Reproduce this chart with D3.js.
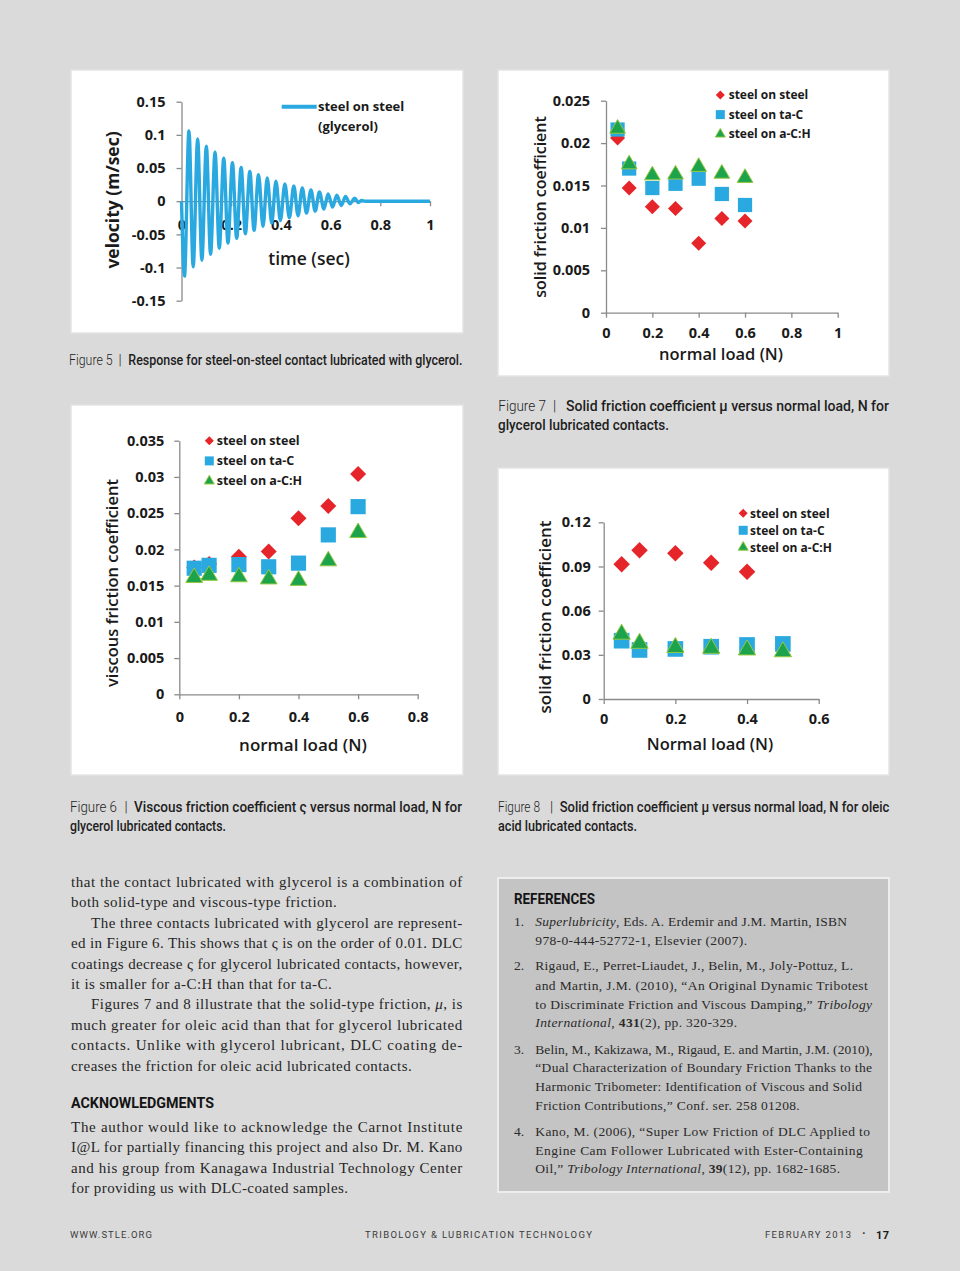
<!DOCTYPE html>
<html lang="en">
<head>
<meta charset="UTF-8" />
<script src="https://d3js.org/d3.v7.min.js"></script>
<title>STLE Feb 2013 - p.17</title>
<style>
  body { margin: 0; background: #dadada; }
  svg { display: block; }
</style>
</head>
<body>
<script>
// ---------- values ----------
var seriesNames = ["steel on steel", "steel on ta-C", "steel on a-C:H"];

// Figure 5 : extremes of the damped velocity oscillation
var velTime = [0, 0.012, 0.030, 0.047, 0.065, 0.082, 0.100, 0.117, 0.135, 0.152, 0.170,
  0.187, 0.205, 0.222, 0.240, 0.257, 0.275, 0.292, 0.310, 0.328, 0.345,
  0.363, 0.380, 0.398, 0.416, 0.434, 0.452, 0.469, 0.486, 0.503, 0.521,
  0.538, 0.555, 0.573, 0.590, 0.608, 0.625, 0.643, 0.660, 0.678, 0.697,
  0.712, 0.725, 0.740, 1.0];
var velValue = [0, -0.113, 0.106, -0.099, 0.094, -0.089, 0.083, -0.080, 0.074, -0.071, 0.065,
  -0.063, 0.058, -0.056, 0.051, -0.049, 0.045, -0.044, 0.040, -0.038, 0.035,
  -0.033, 0.030, -0.029, 0.026, -0.025, 0.023, -0.022, 0.020, -0.018, 0.017,
  -0.015, 0.014, -0.012, 0.011, -0.009, 0.009, -0.0065, 0.007, -0.004, 0.0045,
  -0.002, 0.001, 0, 0];
var velXTicks = [0, 0.2, 0.4, 0.6, 0.8, 1];
var velYTicks = [0.15, 0.1, 0.05, 0, -0.05, -0.1, -0.15];

// Figure 6 : viscous friction coefficient, glycerol
var loads6 = [0.05, 0.1, 0.2, 0.3, 0.4, 0.5, 0.6];
var visc6Steel = [0.0175, 0.0180, 0.0190, 0.0197, 0.0243, 0.0260, 0.0304];
var visc6TaC = [0.0174, 0.0178, 0.0179, 0.0176, 0.0181, 0.0220, 0.0259];
var visc6ACH = [0.0161, 0.0164, 0.0162, 0.0159, 0.0157, 0.0184, 0.0223];
var fig6XTicks = [0, 0.2, 0.4, 0.6, 0.8];
var fig6YTicks = [0, 0.005, 0.01, 0.015, 0.02, 0.025, 0.03, 0.035];

// Figure 7 : solid friction coefficient, glycerol
var loads7 = [0.05, 0.1, 0.2, 0.3, 0.4, 0.5, 0.6];
var solid7Steel = [0.0206, 0.0147, 0.0125, 0.0123, 0.0082, 0.0111, 0.0108];
var solid7TaC = [0.0216, 0.0170, 0.0147, 0.0152, 0.0158, 0.0140, 0.0127];
var solid7ACH = [0.0217, 0.0175, 0.0162, 0.0163, 0.0172, 0.0164, 0.0159];
var fig7XTicks = [0, 0.2, 0.4, 0.6, 0.8, 1];
var fig7YTicks = [0, 0.005, 0.01, 0.015, 0.02, 0.025];

// Figure 8 : solid friction coefficient, oleic acid
var loads8 = [0.05, 0.1, 0.2, 0.3, 0.4, 0.5];
var solid8Steel = [0.0915, 0.101, 0.099, 0.0926, 0.0865];
var solid8TaC = [0.0396, 0.0333, 0.0340, 0.0355, 0.0367, 0.0374];
var solid8ACH = [0.0440, 0.0378, 0.0350, 0.0344, 0.0333, 0.0321];
var fig8XTicks = [0, 0.2, 0.4, 0.6];
var fig8YTicks = [0, 0.03, 0.06, 0.09, 0.12];

// ---------- page ----------
var W = 960, H = 1271;
var svg = d3.select("body").append("svg").attr("width", W).attr("height", H);
svg.append("rect").attr("width", W).attr("height", H).attr("fill", "#dadada");

var ink = "#1a1a1a";
var axisCol = "#8a8a8a";
var red = "#e6252a", blue = "#2aa9e0", green = "#1ca34b", greenEdge = "#93c83f";
var chartFont = "'Open Sans', 'DejaVu Sans', sans-serif";

function panel(x, y, w, h) {
  svg.append("rect").attr("x", x).attr("y", y).attr("width", w).attr("height", h)
    .attr("fill", "#ffffff").attr("stroke", "#e4e4e4").attr("stroke-width", 1.5);
}

function styleAxis(g) {
  g.attr("font-family", null).attr("font-size", null);
  g.select(".domain").attr("stroke", axisCol).attr("stroke-width", 1.3);
  g.selectAll(".tick line").attr("stroke", axisCol).attr("stroke-width", 1.3);
  g.selectAll(".tick text").attr("fill", ink)
    .style("font-family", chartFont).style("font-weight", 700).style("font-size", "14.5px");
}

function axisTitle(text, x, y, size, rotate, weight) {
  svg.append("text").attr("x", x).attr("y", y).attr("dy", "0.35em")
    .attr("text-anchor", "middle")
    .attr("transform", rotate ? "rotate(-90," + x + "," + y + ")" : null)
    .attr("fill", ink)
    .style("font-family", chartFont).style("font-weight", weight || 600).style("font-size", size + "px")
    .text(text);
}

function markerPath(kind, w) {
  if (kind === 0) return d3.symbol(d3.symbolSquare, w * w / 2)();
  if (kind === 1) return d3.symbol(d3.symbolSquare, w * w * 0.9)();
  return d3.symbol(d3.symbolTriangle, w * w * 1.1 * Math.sqrt(3) / 4)();
}
var markerFill = [red, blue, green];

function drawMarker(g, kind, cx, cy, w) {
  g.append("path")
    .attr("d", markerPath(kind, w))
    .attr("transform", "translate(" + cx + "," + cy + ")" + (kind === 0 ? " rotate(45)" : ""))
    .attr("fill", markerFill[kind])
    .attr("stroke", kind === 2 ? greenEdge : "none")
    .attr("stroke-width", kind === 2 ? 1 : 0);
}

function scatterChart(c) {
  panel(c.panel[0], c.panel[1], c.panel[2], c.panel[3]);
  var x = d3.scaleLinear().domain([c.xTicks[0], c.xTicks[c.xTicks.length - 1]]).range(c.xRange);
  var y = d3.scaleLinear().domain([c.yTicks[0], c.yTicks[c.yTicks.length - 1]]).range(c.yRange);

  svg.append("g").attr("transform", "translate(0," + c.yRange[0] + ")")
    .call(d3.axisBottom(x).tickValues(c.xTicks).tickFormat(String)
      .tickSize(5).tickSizeOuter(0).tickPadding(c.xPad))
    .call(styleAxis);
  svg.append("g").attr("transform", "translate(" + c.xRange[0] + ",0)")
    .call(d3.axisLeft(y).tickValues(c.yTicks).tickFormat(String)
      .tickSize(5).tickSizeOuter(0).tickPadding(c.yPad))
    .call(styleAxis);

  var g = svg.append("g");
  c.series.forEach(function (vals, k) {
    vals.forEach(function (v, i) {
      drawMarker(g, k, x(c.loads[i]), y(v), c.mSize);
    });
  });

  // legend
  var lg = svg.append("g");
  seriesNames.forEach(function (name, k) {
    var ly = c.legend[1] + k * c.legend[2];
    drawMarker(lg, k, c.legend[0], ly, k === 0 ? 9 : 9.5);
    lg.append("text").attr("x", c.legend[0] + c.legend[3]).attr("y", ly).attr("dy", "0.35em")
      .attr("fill", ink)
      .style("font-family", chartFont).style("font-weight", 700).style("font-size", c.legendSize + "px")
      .text(name);
  });

  axisTitle(c.yTitle[0], c.yTitle[1], c.yTitle[2], c.yTitle[3], true);
  axisTitle(c.xTitle[0], c.xTitle[1], c.xTitle[2], c.xTitle[3], false);
}

// ---------- Figure 5 ----------
(function () {
  panel(71, 70, 392, 263);
  var x = d3.scaleLinear().domain([0, 1]).range([181.5, 430]);
  var y = d3.scaleLinear().domain([-0.15, 0.15]).range([300.7, 101.7]);

  svg.append("g").attr("transform", "translate(0," + y(0) + ")")
    .call(d3.axisBottom(x).tickValues(velXTicks).tickFormat(String)
      .tickSize(5).tickSizeOuter(0).tickPadding(14))
    .call(styleAxis);
  svg.append("g").attr("transform", "translate(" + x(0) + ",0)")
    .call(d3.axisLeft(y).tickValues(velYTicks).tickFormat(String)
      .tickSize(5).tickSizeOuter(0).tickPadding(11))
    .call(styleAxis);

  var line = d3.line()
    .x(function (d, i) { return x(velTime[i]); })
    .y(function (d) { return y(d); })
    .curve(d3.curveMonotoneX);
  svg.append("path").datum(velValue).attr("d", line)
    .attr("fill", "none").attr("stroke", blue).attr("stroke-width", 3.4)
    .attr("stroke-linejoin", "round");

  svg.append("line").attr("x1", 281.7).attr("x2", 316.7).attr("y1", 106.7).attr("y2", 106.7)
    .attr("stroke", blue).attr("stroke-width", 4);
  svg.append("text").attr("x", 318).attr("y", 106.7).attr("dy", "0.35em").attr("fill", ink)
    .style("font-family", chartFont).style("font-weight", 700).style("font-size", "13px")
    .text("steel on steel");
  svg.append("text").attr("x", 318).attr("y", 126).attr("dy", "0.35em").attr("fill", ink)
    .style("font-family", chartFont).style("font-weight", 700).style("font-size", "13px")
    .text("(glycerol)");

  axisTitle("velocity (m/sec)", 113, 200, 17.5, true, 700);
  axisTitle("time (sec)", 309, 259, 17.5, false);
})();

// ---------- Figure 7 ----------
scatterChart({
  panel: [498, 70, 391, 306],
  xTicks: fig7XTicks, yTicks: fig7YTicks,
  xRange: [606, 837.7], yRange: [312.7, 100.7],
  xPad: 10, yPad: 11,
  loads: loads7, series: [solid7Steel, solid7TaC, solid7ACH], mSize: 15,
  legend: [720.3, 95, 19.6, 8.4], legendSize: 12,
  yTitle: ["solid friction coefficient", 540, 207, 16],
  xTitle: ["normal load (N)", 721, 354, 16.5]
});

// ---------- Figure 6 ----------
scatterChart({
  panel: [71, 405, 392, 370],
  xTicks: fig6XTicks, yTicks: fig6YTicks,
  xRange: [179.3, 417.7], yRange: [694.3, 440.7],
  xPad: 12.5, yPad: 10,
  loads: loads6, series: [visc6Steel, visc6TaC, visc6ACH], mSize: 16,
  legend: [209.3, 440.7, 20.2, 7.4], legendSize: 12.5,
  yTitle: ["viscous friction coefficient", 112, 583, 16.5],
  xTitle: ["normal load (N)", 303, 745, 17]
});

// ---------- Figure 8 ----------
scatterChart({
  panel: [498, 468, 391, 307],
  xTicks: fig8XTicks, yTicks: fig8YTicks,
  xRange: [603.7, 818.7], yRange: [699, 522.3],
  xPad: 10, yPad: 8,
  loads: loads8, series: [solid8Steel, solid8TaC, solid8ACH], mSize: 16.5,
  legend: [743.2, 513.3, 17, 6.8], legendSize: 12,
  yTitle: ["solid friction coefficient", 545, 617, 17],
  xTitle: ["Normal load (N)", 710, 744, 16.5]
});

// ---------- text on the page ----------
function textLine(x, y, width, parts, opt) {
  var t = svg.append("text").attr("x", x).attr("y", y).attr("fill", opt.color || "#262626")
    .style("font-family", opt.family).style("font-size", opt.size + "px")
    .style("font-weight", opt.weight || 400);
  parts.forEach(function (p) {
    var s = t.append("tspan").text(p[0]);
    if (p[1] === "i") s.style("font-style", "italic");
    else if (p[1] === "b") s.style("font-weight", 700);
    else if (typeof p[1] === "number") s.style("font-weight", p[1]);
  });
  if (width) t.attr("textLength", width).attr("lengthAdjust", opt.adjust || "spacing");
  return t;
}

// captions: label, bar and text set separately
var capFamily = "Roboto, 'DejaVu Sans Condensed', sans-serif";
var capLight = { family: capFamily, size: 14, weight: 300, adjust: "spacingAndGlyphs", color: "#1e1e1e" };
var capBold = { family: capFamily, size: 14, weight: 500, adjust: "spacingAndGlyphs", color: "#1e1e1e" };
function caption(y, label, x0, x1, barX, x2, x3, text) {
  textLine(x0, y, x1 - x0, [[label]], capLight);
  textLine(barX, y, null, [["|"]], { family: capFamily, size: 14, weight: 300, color: "#1e1e1e" });
  textLine(x2, y, x3 - x2, [[text]], capBold);
}
caption(365, "Figure 5", 69, 112.7, 118.5, 128.3, 462.5, "Response for steel-on-steel contact lubricated with glycerol.");
caption(411, "Figure 7", 498.3, 546, 553, 566, 889, "Solid friction coefficient \u03bc versus normal load, N for");
textLine(498, 430, 171, [["glycerol lubricated contacts."]], capBold);
caption(812, "Figure 6", 70, 117, 124.5, 134, 462, "Viscous friction coefficient \u03c2 versus normal load, N for");
textLine(70, 831, 156, [["glycerol lubricated contacts."]], capBold);
caption(812, "Figure 8", 498, 540, 550, 559.7, 889.3, "Solid friction coefficient \u03bc versus normal load, N for oleic");
textLine(498, 831, 139, [["acid lubricated contacts."]], capBold);

// body column
var bodyFont = { family: "'Liberation Serif', 'DejaVu Serif', serif", size: 15, color: "#262626" };
var bodyLines = [
  [71, 886.7, 462.3, [["that the contact lubricated with glycerol is a combination of"]]],
  [71, 906.7, 336.7, [["both solid-type and viscous-type friction."]]],
  [91, 927.7, 462.3, [["The three contacts lubricated with glycerol are represent-"]]],
  [71, 948, 462.3, [["ed in Figure 6. This shows that \u03c2 is on the order of 0.01. DLC"]]],
  [71, 969, 462.3, [["coatings decrease \u03c2 for glycerol lubricated contacts, however,"]]],
  [71, 989, 331.7, [["it is smaller for a-C:H than that for ta-C."]]],
  [91, 1009.3, 462.3, [["Figures 7 and 8 illustrate that the solid-type friction, "], ["\u03bc", "i"], [", is"]]],
  [71, 1030, 462.3, [["much greater for oleic acid than that for glycerol lubricated"]]],
  [71, 1050, 462.3, [["contacts. Unlike with glycerol lubricant, DLC coating de-"]]],
  [71, 1070.7, 411.7, [["creases the friction for oleic acid lubricated contacts."]]],
  [71, 1131.7, 462.3, [["The author would like to acknowledge the Carnot Institute"]]],
  [71, 1152.3, 462.3, [["I@L for partially financing this project and also Dr. M. Kano"]]],
  [71, 1172.7, 462.3, [["and his group from Kanagawa Industrial Technology Center"]]],
  [71, 1192.7, 348, [["for providing us with DLC-coated samples."]]]
];
bodyLines.forEach(function (l) { textLine(l[0], l[1], l[2] - l[0], l[3], bodyFont); });

var headFont = { family: capFamily, size: 15.5, weight: 700, adjust: "spacingAndGlyphs", color: "#141414" };
textLine(71, 1108, 143, [["ACKNOWLEDGMENTS"]], headFont);

// references box
svg.append("rect").attr("x", 498).attr("y", 878).attr("width", 391).attr("height", 314)
  .attr("fill", "#c4c4c4").attr("stroke", "#ededed").attr("stroke-width", 2);
textLine(514, 904, 81, [["REFERENCES"]], { family: capFamily, size: 14.5, weight: 700, adjust: "spacingAndGlyphs", color: "#141414" });

var refFont = { family: "'Liberation Serif', 'DejaVu Serif', serif", size: 13.5, color: "#2a2a2a" };
var refNums = [["1.", 926.2], ["2.", 970.2], ["3.", 1053.8], ["4.", 1135.5]];
refNums.forEach(function (n) { textLine(514, n[1], null, [[n[0]]], refFont); });
var refLines = [
  [926.2, 847, [["Superlubricity", "i"], [", Eds. A. Erdemir and J.M. Martin, ISBN"]]],
  [945.2, 747, [["978-0-444-52772-1, Elsevier (2007)."]]],
  [970.2, 853, [["Rigaud, E., Perret-Liaudet, J., Belin, M., Joly-Pottuz, L."]]],
  [989.5, 867.7, [["and Martin, J.M. (2010), \u201cAn Original Dynamic Tribotest"]]],
  [1008.5, 872, [["to Discriminate Friction and Viscous Damping,\u201d "], ["Tribology", "i"]]],
  [1027.2, 737, [["International", "i"], [", "], ["431", "b"], ["(2), pp. 320-329."]]],
  [1053.8, 872.7, [["Belin, M., Kakizawa, M., Rigaud, E. and Martin, J.M. (2010),"]]],
  [1072.2, 872, [["\u201cDual Characterization of Boundary Friction Thanks to the"]]],
  [1091.2, 862, [["Harmonic Tribometer: Identification of Viscous and Solid"]]],
  [1109.5, 799.7, [["Friction Contributions,\u201d Conf. ser. 258 01208."]]],
  [1135.5, 870, [["Kano, M. (2006), \u201cSuper Low Friction of DLC Applied to"]]],
  [1154.5, 862.7, [["Engine Cam Follower Lubricated with Ester-Containing"]]],
  [1172.8, 840, [["Oil,\u201d "], ["Tribology International", "i"], [", "], ["39", "b"], ["(12), pp. 1682-1685."]]]
];
refLines.forEach(function (l) { textLine(535.3, l[0], l[1] - 535.3, l[2], refFont); });

// footer
var footFont = { family: "Roboto, 'DejaVu Sans', sans-serif", size: 9.5, color: "#3a3a3a", adjust: "spacing" };
textLine(70, 1238, 82, [["WWW.STLE.ORG"]], footFont);
textLine(365, 1238, 227, [["TRIBOLOGY & LUBRICATION TECHNOLOGY"]], footFont);
textLine(765, 1238, 86, [["FEBRUARY 2013"]], footFont);
textLine(862, 1238, null, [["\u00b7", 700]], { family: footFont.family, size: 12, color: "#3a3a3a" });
textLine(876, 1238.5, 13, [["17", 700]], { family: footFont.family, size: 11, color: "#1a1a1a", adjust: "spacing" });
</script>
</body>
</html>
